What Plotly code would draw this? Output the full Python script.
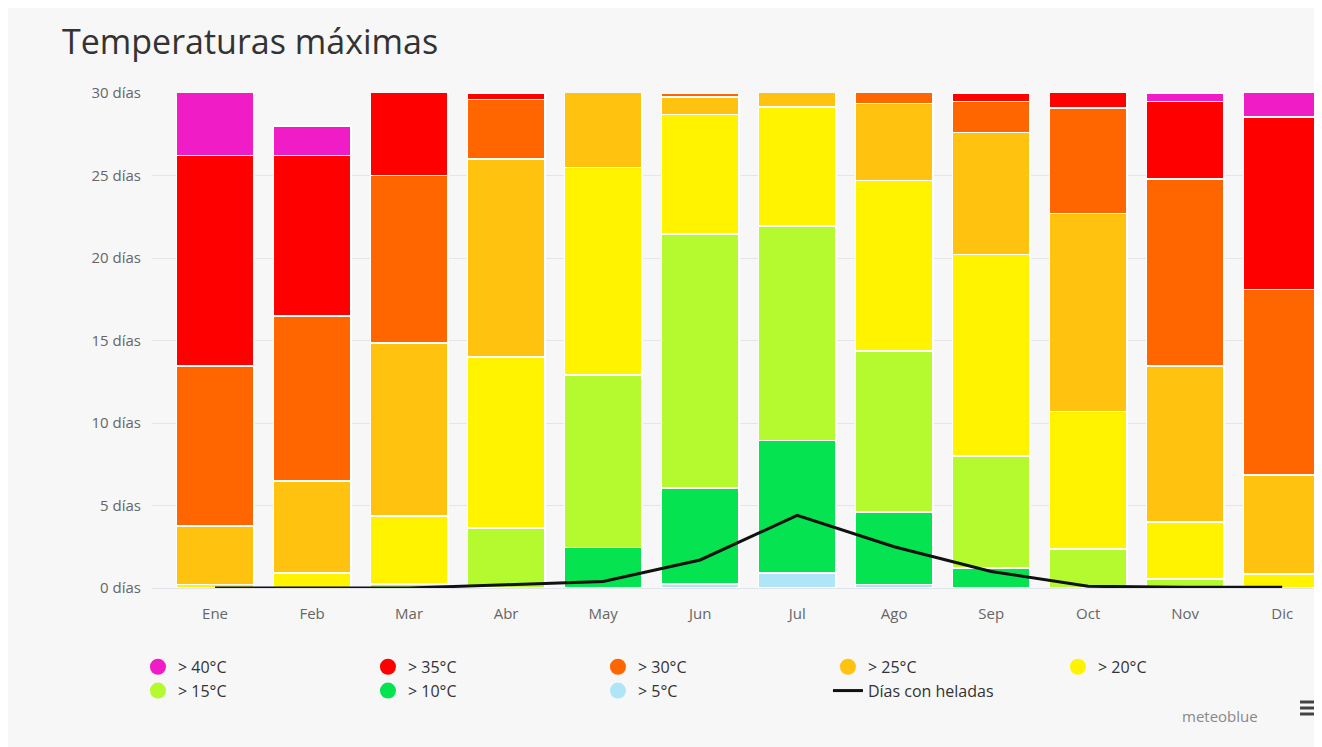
import plotly.graph_objects as go

months = ["Ene", "Feb", "Mar", "Abr", "May", "Jun", "Jul", "Ago", "Sep", "Oct", "Nov", "Dic"]

# days per month in each max-temperature class (stacked bottom -> top)
gt5  = [0, 0, 0, 0, 0, 0.25, 0.9, 0.2, 0, 0, 0, 0]
gt10 = [0, 0, 0, 0, 2.45, 5.8, 8.05, 4.4, 1.2, 0, 0, 0]
gt15 = [0, 0, 0.25, 3.65, 10.45, 15.4, 13.0, 9.75, 6.8, 2.35, 0.55, 0]
gt20 = [0.2, 0.9, 4.1, 10.35, 12.6, 7.25, 7.2, 10.35, 12.2, 8.35, 3.45, 0.85]
gt25 = [3.55, 5.6, 10.5, 12.0, 5.5, 1.05, 1.85, 4.65, 7.4, 12.0, 9.45, 6.0]
gt30 = [9.7, 10.0, 10.15, 3.6, 0, 0.25, 0, 1.65, 1.9, 6.4, 11.35, 11.25]
gt35 = [12.75, 9.7, 6.0, 0.4, 0, 0, 0, 0, 0.5, 1.9, 4.7, 10.45]
gt40 = [4.8, 1.8, 0, 0, 0, 0, 0, 0, 0, 0, 0.5, 2.45]
frost = [0, 0, 0, 0.2, 0.4, 1.7, 4.4, 2.5, 1.0, 0.1, 0.05, 0.05]

series = [
    ("> 5°C", gt5, "#aee6f7"),
    ("> 10°C", gt10, "#05e350"),
    ("> 15°C", gt15, "#b4fa2e"),
    ("> 20°C", gt20, "#fff300"),
    ("> 25°C", gt25, "#ffc30f"),
    ("> 30°C", gt30, "#ff6600"),
    ("> 35°C", gt35, "#ff0000"),
    ("> 40°C", gt40, "#f01cc6"),
]
y_ticks = [0, 5, 10, 15, 20, 25, 30]
y_labels = [f"{v} días" for v in y_ticks]

W, H = 1314, 739
L, T, B = 144, 85, 159
PW, PH = W - L, H - T - B

fig = go.Figure()
for name, vals, col in series:
    fig.add_trace(go.Bar(x=months, y=vals, name=name,
                         marker=dict(color=col, line=dict(color="white", width=1.5)),
                         showlegend=False))

# legend entries (circle markers), hottest first
for name, vals, col in reversed(series):
    fig.add_trace(go.Scatter(x=[None], y=[None], mode="markers", name=name,
                             marker=dict(color=col, size=16, symbol="circle")))

fig.add_trace(go.Scatter(x=months, y=frost, mode="lines", name="Días con heladas",
                         line=dict(color="#111111", width=3)))

bg = "#f7f7f7"
shapes = []
for yy in (694, 700, 706):
    shapes.append(dict(type="line", xref="paper", yref="paper",
                       x0=(1292 - L) / PW, x1=(1310 - L) / PW,
                       y0=(T + PH - yy) / PH, y1=(T + PH - yy) / PH,
                       line=dict(color="#444444", width=3)))

fig.update_layout(
    width=W, height=H,
    barmode="stack", bargap=0.2,
    paper_bgcolor=bg, plot_bgcolor=bg,
    margin=dict(l=L, r=0, t=T, b=B),
    font=dict(family="Open Sans", color="#333333"),
    title=dict(text="Temperaturas máximas", x=54 / W, xanchor="left", y=1 - 34 / H, yanchor="middle",
               font=dict(size=34, color="#333333", family="Open Sans")),
    xaxis=dict(range=[-0.65, 11.41], showgrid=False, showline=True, linecolor="#dfe3ea", linewidth=1,
               ticks="", tickfont=dict(size=15, color="#666666"), ticklabelstandoff=12, fixedrange=True),
    yaxis=dict(range=[0, 30], tickvals=y_ticks, ticktext=y_labels, showgrid=True, gridcolor="#e6e6e6",
               zeroline=False, tickfont=dict(size=15, color="#666666"), ticklabelstandoff=10),
    legend=dict(orientation="h", x=-0.012, xanchor="left", y=-0.125, yanchor="top",
                traceorder="normal",
                entrywidth=185, entrywidthmode="pixels", font=dict(size=16, color="#333333"),
                bgcolor="rgba(0,0,0,0)", tracegroupgap=0),
    shapes=shapes,
    annotations=[
        dict(text="meteoblue", x=(1212 - L) / PW, y=(T + PH - 708) / PH, xref="paper", yref="paper",
             showarrow=False, xanchor="center", yanchor="middle", font=dict(size=15, color="#888888")),
    ],
)

fig.write_html("out.html")
